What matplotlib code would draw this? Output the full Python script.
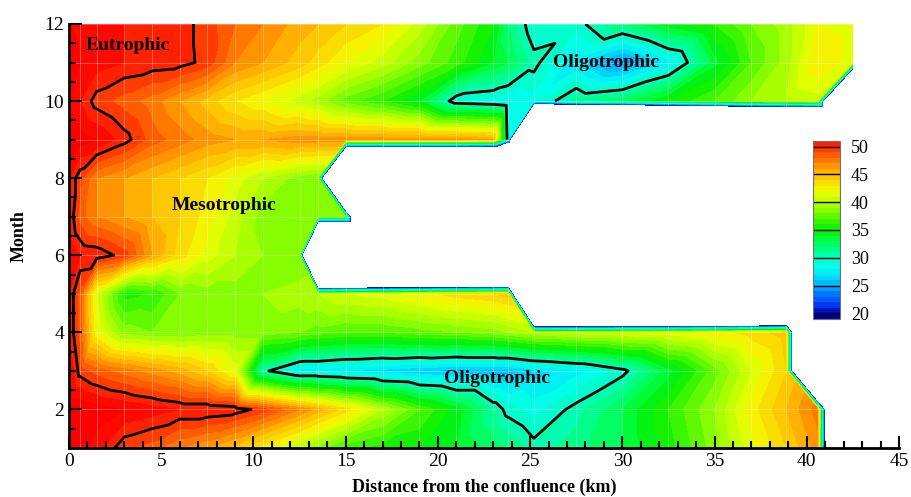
import numpy as np
import matplotlib
matplotlib.use("Agg")
import matplotlib.pyplot as plt
import matplotlib.tri as mtri
from matplotlib.colors import LinearSegmentedColormap, Normalize
from matplotlib.colorbar import Colorbar
from matplotlib.ticker import MultipleLocator

plt.rcParams['font.family'] = ['Liberation Serif', 'DejaVu Serif']

nan = np.nan
# distance of the sampling stations from the confluence (km)
dist = [0, 0.6, 1.5, 3, 4.5, 6, 7.5, 9, 10.5, 12.5, 13.5, 15, 17, 19, 21,
        23, 23.8, 25.2, 27.5, 30, 32.5, 35, 37, 38.9, 40.6, 42.5]
months = [1, 2, 3, 4, 5, 6, 7, 8, 9, 10, 11, 12]

# trophic state index, one row per month (nan = not sampled)
tsi_m1 = [53, 52.5, 51.5, 49.2, 48.5, 47, 46, 44.5, 42.5, 40, 38.5, 36.5, 35.5,
          35, 34, 32.5, 32, 30.5, 31.5, 33, 35.5, 38.5, 41.5, 44, 46.5, nan]
tsi_m2 = [53, 53, 52.5, 52, 51.5, 51, 51, 50.7, 49.5, 47, 45.5, 43.5, 40,
          37, 34.5, 31, 29.5, 28.5, 30.5, 33, 36, 39, 42.5, 45, 47.5, nan]
tsi_m3 = [52, 49.5, 48.5, 47.5, 46.5, 45.5, 44, 41.5, 30.5, 27.5, 27.5, 27, 26.5,
          26, 25.5, 25.5, 25.5, 26.5, 27.5, 29.5, 33.5, 37.5, 41, 44, nan, nan]
tsi_m4 = [51, 48.5, 42, 38.5, 38, 38, 38.5, 38.5, 38.5, 38, 37.5, 37, 37,
          37.5, 38, 38.5, 39, 40, 40.5, 41, 41.5, 42.5, 43.5, 44.5, nan, nan]
tsi_m5 = [51, 48.5, 41, 35.5, 36, 38, 38.5, 38.5, 39, 39.5, 40, 41, 41.5,
          42.5, 43.5, 44, 44.5, nan, nan, nan, nan, nan, nan, nan, nan, nan]
tsi_m6 = [52, 51, 50.8, 49.5, 46, 43.5, 41.5, 40, 39, 38, nan, nan, nan,
          nan, nan, nan, nan, nan, nan, nan, nan, nan, nan, nan, nan, nan]
tsi_m7 = [51, 48.5, 47, 46, 45, 44, 42.5, 40.5, 38.5, 38, 38, 38, nan,
          nan, nan, nan, nan, nan, nan, nan, nan, nan, nan, nan, nan, nan]
tsi_m8 = [51, 49.3, 47, 46, 45, 44, 43, 41.5, 40, 38.5, 38, nan, nan,
          nan, nan, nan, nan, nan, nan, nan, nan, nan, nan, nan, nan, nan]
tsi_m9 = [53, 52.5, 52, 50.5, 48.5, 47.5, 46.5, 46, 46, 46.5, 46.5, 46.5, 46.5,
          46.5, 46.5, 46, 29, nan, nan, nan, nan, nan, nan, nan, nan, nan]
tsi_m10 = [52, 51, 49.5, 48.5, 47.5, 46, 44.5, 43, 42, 40.5, 39.5, 37.5, 36,
           34, 29, 28.5, 28, 28.5, 31.5, 32.5, 35, 37, 39, 40, 40.5, nan]
tsi_m11 = [53, 52, 51.5, 51, 50.7, 50.5, 49.6, 47, 46, 44.5, 43.5, 42, 40.5,
           38.5, 36.5, 34, 33, 30.5, 27, 24, 27.5, 33.5, 37, 39.5, 43, 41.5]
tsi_m12 = [52, 51.5, 51, 51, 50.8, 50.5, 49.5, 48, 47, 45.5, 45, 44, 43,
           40.5, 37.5, 35, 32, 29, 29.5, 32, 34.5, 36, 38, 39.5, 42, 41.5]

tsi = np.array([tsi_m1, tsi_m2, tsi_m3, tsi_m4, tsi_m5, tsi_m6,
                tsi_m7, tsi_m8, tsi_m9, tsi_m10, tsi_m11, tsi_m12])

X, Y = np.meshgrid(dist, months)
nx, ny = len(dist), len(months)
miss = np.isnan(tsi).ravel()
z = np.where(np.isnan(tsi), -100.0, tsi).ravel()  # blanked like the original

# quad cells split so that a lone missing corner sits in its own triangle
tris = []
for j in range(ny - 1):
    for i in range(nx - 1):
        a = j * nx + i
        b, d = a + 1, a + nx
        c = d + 1
        if miss[a] or miss[c]:
            tris += [[a, b, d], [b, c, d]]
        else:
            tris += [[a, b, c], [a, c, d]]
tris = np.array(tris)
tri_all = mtri.Triangulation(X.ravel(), Y.ravel(), tris)
tri_ok = mtri.Triangulation(X.ravel(), Y.ravel(), tris,
                            mask=miss[tris].any(axis=1))

stops = [(20, (0.0, 0.0, 0.75)), (22, (0.0, 0.3, 1.0)), (25, (0.0, 0.68, 1.0)),
         (28, (0.0, 1.0, 0.95)), (30, (0.0, 1.0, 0.75)), (33, (0.0, 1.0, 0.3)),
         (35, (0.0, 0.94, 0.0)), (39, (0.6, 1.0, 0.0)), (42, (0.95, 1.0, 0.0)),
         (45, (1.0, 0.75, 0.0)), (48, (1.0, 0.42, 0.0)), (50, (1.0, 0.17, 0.0)),
         (52, (1.0, 0.0, 0.0)), (56, (1.0, 0.0, 0.0))]
vmin, vmax = 20, 56
cmap = LinearSegmentedColormap.from_list(
    'tsi', [((v - vmin) / (vmax - vmin), c) for v, c in stops])
cmap.set_under((0.0, 0.0, 0.55))
norm = Normalize(vmin, vmax)

fig = plt.figure(figsize=(9.12, 4.97), dpi=100)
ax = fig.add_axes([69 / 912, 49 / 497, 830 / 912, 424 / 497])

ax.tricontourf(tri_all, z, levels=np.arange(20, 57, 1), cmap=cmap, norm=norm)
ax.vlines(dist, 1, 12, colors='white', linewidths=0.6, alpha=0.35, zorder=1.5)
ax.hlines(months, 0, 42.5, colors='white', linewidths=0.6, alpha=0.35, zorder=1.5)
ax.tricontour(tri_ok, z, levels=[30, 50], colors='k', linewidths=2, zorder=2)

lab = dict(fontsize=14, fontweight='bold', ha='center', va='center')
ax.text(3.2, 11.45, 'Eutrophic', **lab)
ax.text(8.4, 7.3, 'Mesotrophic', **lab)
ax.text(29.1, 11.0, 'Oligotrophic', **lab)
ax.text(23.2, 2.8, 'Oligotrophic', **lab)

ax.set_xlim(0, 45)
ax.set_ylim(1, 12)
ax.xaxis.set_major_locator(MultipleLocator(5))
ax.xaxis.set_minor_locator(MultipleLocator(1))
ax.yaxis.set_major_locator(MultipleLocator(2))
ax.yaxis.set_minor_locator(MultipleLocator(0.5))
ax.tick_params(which='both', direction='in', labelsize=14, width=1.5)
ax.tick_params(which='major', length=9)
ax.tick_params(which='minor', length=5)
for s in ['top', 'right']:
    ax.spines[s].set_visible(False)
for s in ['left', 'bottom']:
    ax.spines[s].set_linewidth(2)
ax.set_xlabel('Distance from the confluence (km)', fontsize=13,
              fontweight='bold', labelpad=6)
ax.set_ylabel('Month', fontsize=13, fontweight='bold', labelpad=12)

cax = fig.add_axes([813 / 912, 178 / 497, 27 / 912, 178 / 497])
bounds = np.concatenate([[19.5], np.arange(20, 51, 1), [50.8]])
cb = Colorbar(cax, cmap=cmap, norm=norm, boundaries=bounds,
              ticks=np.arange(20, 51, 5))
cb.ax.tick_params(length=0, labelsize=13, pad=8)
cb.outline.set_edgecolor('0.45')
for v in range(20, 51, 5):
    cax.axhline(v, color='k', linewidth=1)

fig.savefig('out.png', dpi=100)
